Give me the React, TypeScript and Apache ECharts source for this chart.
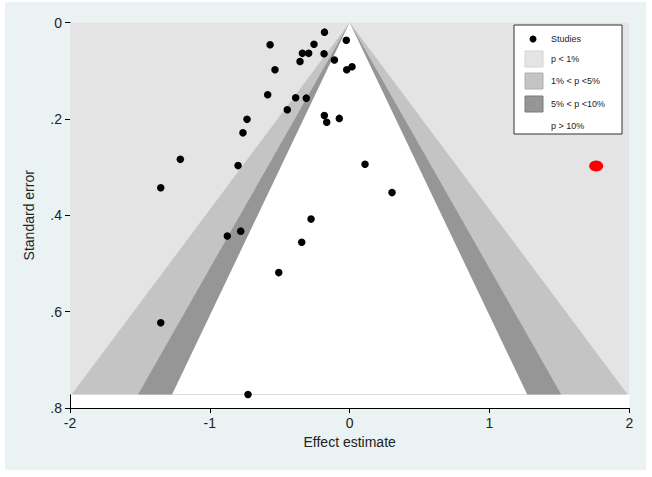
import React, { useEffect, useRef } from "react";
import * as echarts from "echarts";

// Study effect estimates (x) and standard errors (y)
const effects = [
  -0.18, -0.569, -0.255, -0.338, -0.293, -0.183, -0.024, -0.355, -0.109, -0.534,
  -0.021, 0.017, -0.586, -0.386, -0.31, -0.446, -0.734, -0.181, -0.164, -0.074,
  -0.763, -1.211, -0.798, 0.11, -1.351, 0.303, -0.276, -0.875, -0.779, -0.343,
  -0.507, -1.351, -0.727,
];
const stdErrors = [
  0.02, 0.046, 0.045, 0.064, 0.064, 0.065, 0.037, 0.081, 0.078, 0.098,
  0.098, 0.092, 0.15, 0.156, 0.157, 0.181, 0.201, 0.193, 0.207, 0.199,
  0.229, 0.284, 0.297, 0.294, 0.343, 0.353, 0.408, 0.443, 0.433, 0.456,
  0.519, 0.623, 0.772,
];
// Highlighted point
const highlightEffect = [1.763];
const highlightSE = [0.298];

// Contour z-values: 1%, 5%, 10%
const contourZ = [2.576, 1.96, 1.645];
const contourColors = ["#c4c4c4", "#969696", "#ffffff"];
const outerColor = "#e4e4e4";

const xTicks = [-2, -1, 0, 1, 2];
const yTicks = [0, 0.2, 0.4, 0.6, 0.8];

const legendLabels = ["Studies", "p < 1%", "1% < p <5%", "5% < p <10%", "p > 10%"];

const OX = 5;
const OY = 2;

export default function App() {
  const ref = useRef<HTMLDivElement>(null);
  useEffect(() => {
    document.body.style.margin = "0";
    document.body.style.background = "#ffffff";
    if (!ref.current) return;
    const chart = echarts.init(ref.current, undefined, { renderer: "svg" });
    const maxSE = Math.max(...stdErrors);
    const font = "'Liberation Sans', Arial, sans-serif";

    const studies = effects.map((e, i) => [e, stdErrors[i]]);
    const highlight = highlightEffect.map((e, i) => [e, highlightSE[i]]);

    const lx = 514 - OX;
    const ly = 25 - OY;
    const lw = 108;
    const lh = 109;
    const rowY = [39, 59, 81, 104, 126].map((v) => v - OY);
    const swatchX = 525 - OX;
    const textX = 551 - OX;
    const swatchFills = [outerColor, contourColors[0], contourColors[1]];
    const swatchStrokes = ["#d4d4d4", "#b0b0b0", "#7a7a7a"];

    const graphics: any[] = [
      {
        type: "rect",
        shape: { x: lx, y: ly, width: lw, height: lh },
        style: { fill: "#ffffff", stroke: "#333333", lineWidth: 1 },
        z: 100,
      },
      {
        type: "circle",
        shape: { cx: 533 - OX, cy: rowY[0], r: 3.5 },
        style: { fill: "#000000" },
        z: 101,
      },
    ];
    for (let i = 0; i < 3; i++) {
      graphics.push({
        type: "rect",
        shape: { x: swatchX, y: rowY[i + 1] - 8, width: 18, height: 16 },
        style: { fill: swatchFills[i], stroke: swatchStrokes[i], lineWidth: 1 },
        z: 101,
      });
    }
    legendLabels.forEach((t, i) => {
      graphics.push({
        type: "text",
        x: textX,
        y: rowY[i],
        style: {
          text: t,
          fill: "#222222",
          font: `9px ${font}`,
          verticalAlign: "middle",
          align: "left",
        },
        z: 101,
      });
    });

    chart.setOption({
      animation: false,
      backgroundColor: "#eaf2f3",
      grid: {
        left: 70 - OX,
        top: 22.5 - OY,
        width: 559.3,
        height: 385.5,
        containLabel: false,
        show: true,
        backgroundColor: "#ffffff",
        borderWidth: 0,
      },
      xAxis: {
        type: "value",
        min: xTicks[0],
        max: xTicks[xTicks.length - 1],
        interval: 1,
        name: "Effect estimate",
        nameLocation: "middle",
        nameGap: 27,
        nameTextStyle: { color: "#222222", fontSize: 14, fontFamily: font },
        axisLine: { show: true, onZero: false, lineStyle: { color: "#000000", width: 1 } },
        axisTick: { show: true, length: 5, lineStyle: { color: "#000000" } },
        axisLabel: {
          color: "#222222",
          fontSize: 14,
          fontFamily: font,
          margin: 8,
          formatter: (v: number) => String(v),
        },
        splitLine: { show: false },
      },
      yAxis: {
        type: "value",
        inverse: true,
        min: yTicks[0],
        max: yTicks[yTicks.length - 1],
        interval: 0.2,
        name: "Standard error",
        nameLocation: "middle",
        nameGap: 34,
        nameTextStyle: { color: "#222222", fontSize: 14, fontFamily: font },
        axisLine: { show: true, onZero: false, lineStyle: { color: "#000000", width: 1 } },
        axisTick: { show: true, length: 5, lineStyle: { color: "#000000" } },
        axisLabel: {
          color: "#222222",
          fontSize: 14,
          fontFamily: font,
          margin: 8,
          formatter: (v: number) => {
            const r = Math.round(v * 10) / 10;
            return r === 0 ? "0" : String(r).replace(/^0\./, ".");
          },
        },
        splitLine: { show: false },
      },
      graphic: graphics,
      series: [
        {
          type: "custom",
          silent: true,
          z: 1,
          data: [[0]],
          renderItem: (params: any, api: any) => {
            const a = api.coord([-2, 0]);
            const b = api.coord([2, maxSE]);
            return {
              type: "rect",
              shape: { x: a[0], y: a[1], width: b[0] - a[0], height: b[1] - a[1] },
              style: { fill: outerColor },
            };
          },
        },
        {
          type: "custom",
          silent: true,
          z: 1,
          data: contourZ.map((z, i) => [z, i]),
          renderItem: (params: any, api: any) => {
            const z = api.value(0);
            const idx = api.value(1);
            const p0 = api.coord([0, 0]);
            const pl = api.coord([-z * maxSE, maxSE]);
            const pr = api.coord([z * maxSE, maxSE]);
            return {
              type: "polygon",
              shape: { points: [p0, pl, pr] },
              style: { fill: contourColors[idx] },
            };
          },
        },
        {
          name: "Studies",
          type: "scatter",
          z: 5,
          symbol: "circle",
          symbolSize: 7.5,
          itemStyle: { color: "#000000", opacity: 1 },
          data: studies,
        },
        {
          type: "scatter",
          z: 5,
          symbol: "circle",
          symbolSize: [14, 11],
          itemStyle: { color: "#ff0000", opacity: 1 },
          data: highlight,
        },
      ],
    });
    return () => chart.dispose();
  }, []);
  return (
    <div
      ref={ref}
      style={{ position: "absolute", left: OX, top: OY, width: 641, height: 468 }}
    />
  );
}
